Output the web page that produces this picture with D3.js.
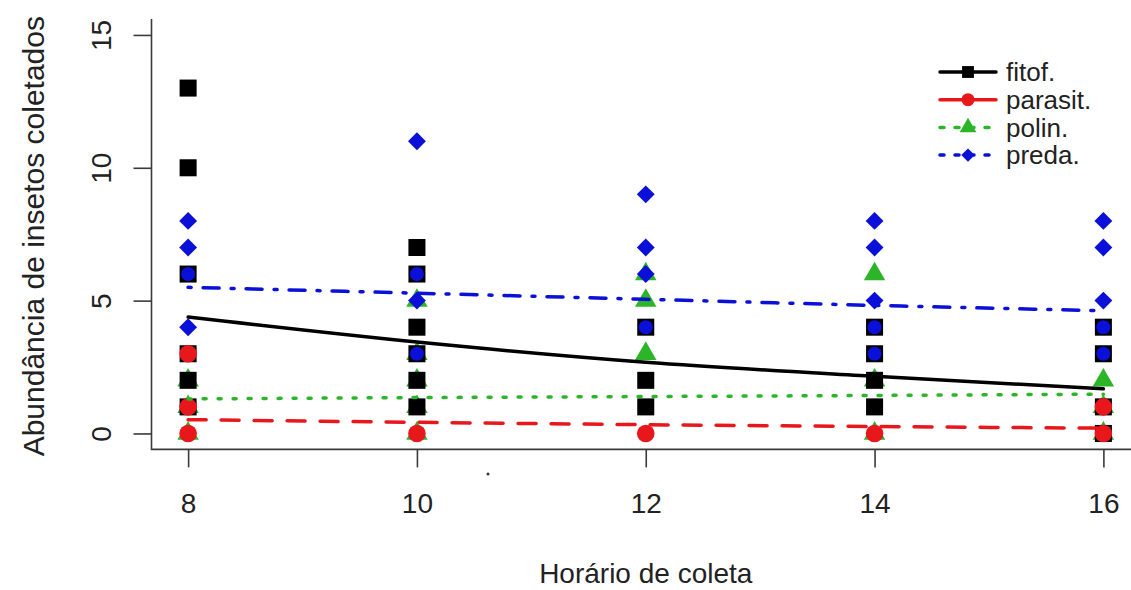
<!DOCTYPE html>
<html>
<head>
<meta charset="utf-8">
<script src="https://cdn.jsdelivr.net/npm/d3@7"></script>
<style>
  body { margin: 0; background: #fff; }
  svg text { font-family: "Liberation Sans", Arial, sans-serif; fill: #222; }
</style>
</head>
<body>
<svg id="chart"></svg>
<script>
// hours of collection
const hours = [8, 10, 12, 14, 16];
const yTicks = [0, 5, 10, 15];

// observed counts, [hour, count]
const fitofObs = [[8, 13], [8, 10], [8, 6], [8, 3], [8, 2], [8, 1],
  [10, 7], [10, 6], [10, 4], [10, 3], [10, 2], [10, 1],
  [12, 4], [12, 2], [12, 1],
  [14, 4], [14, 3], [14, 2], [14, 1],
  [16, 4], [16, 3], [16, 1], [16, 0]];
const parasitObs = [[8, 3], [8, 1], [8, 0], [10, 0], [12, 0], [14, 0], [16, 1], [16, 0]];
const polinObs = [[8, 2], [8, 1], [8, 0],
  [10, 5], [10, 3], [10, 2], [10, 1], [10, 0],
  [12, 6], [12, 5], [12, 3],
  [14, 6], [14, 2], [14, 0],
  [16, 2], [16, 1], [16, 0]];
const predaObs = [[8, 8], [8, 7], [8, 4], [10, 11], [10, 5], [12, 9], [12, 7], [12, 6],
  [14, 8], [14, 7], [14, 5], [16, 8], [16, 7], [16, 5]];
// preda points that show up as circles inside the black squares
const predaCircleObs = [[8, 6], [10, 6], [10, 3], [12, 4], [14, 4], [14, 3], [16, 4], [16, 3]];

// fitted values at each hour
const fitofFit = [4.38, 3.44, 2.68, 2.15, 1.68];
const parasitFit = [0.52, 0.42, 0.33, 0.26, 0.20];
const polinFit = [1.30, 1.35, 1.39, 1.43, 1.48];
const predaFit = [5.50, 5.28, 5.05, 4.82, 4.62];

const legendLabels = ['fitof.', 'parasit.', 'polin.', 'preda.'];

const width = 1131, height = 590;
const svg = d3.select('#chart').attr('width', width).attr('height', height);

const x = d3.scaleLinear().domain([7.68, 16.32]).range([151.5, 1140]);
const y = d3.scaleLinear().domain([-0.6, 15.6]).range([449.4, 19]);

const axisColor = '#3a3a3a';

// L shaped box (bty = "l")
svg.append('path')
  .attr('d', `M${x.range()[0]},${y.range()[1]}V${y.range()[0]}H${width}`)
  .attr('fill', 'none')
  .attr('stroke', axisColor)
  .attr('stroke-width', 1.6);

// x axis
const xAxisG = svg.append('g')
  .attr('transform', `translate(0,${y.range()[0]})`)
  .call(d3.axisBottom(x).tickValues(hours).tickSize(18).tickPadding(26));
xAxisG.select('.domain').remove();
xAxisG.selectAll('.tick line').attr('stroke', axisColor).attr('stroke-width', 1.6);
xAxisG.selectAll('.tick text')
  .attr('fill', '#222')
  .style('font-size', '28px');

// y axis
const yAxisG = svg.append('g')
  .attr('transform', `translate(${x.range()[0]},0)`)
  .call(d3.axisLeft(y).tickValues(yTicks).tickSize(18));
yAxisG.select('.domain').remove();
yAxisG.selectAll('.tick line').attr('stroke', axisColor).attr('stroke-width', 1.6);
yAxisG.selectAll('.tick text')
  .attr('x', 0).attr('y', 0).attr('dy', null)
  .attr('transform', 'translate(-41,0) rotate(-90)')
  .attr('text-anchor', 'middle')
  .attr('fill', '#222')
  .style('font-size', '28px');

// axis titles
svg.append('text')
  .attr('x', (x.range()[0] + x.range()[1]) / 2)
  .attr('y', 583)
  .attr('text-anchor', 'middle')
  .style('font-size', '28px')
  .text('Horário de coleta');

svg.append('text')
  .attr('transform', `translate(44,${(y.range()[0] + y.range()[1]) / 2 + 2}) rotate(-90)`)
  .attr('text-anchor', 'middle')
  .style('font-size', '30px')
  .text('Abundância de insetos coletados');

// small stray dot under the axis
svg.append('circle').attr('cx', 488).attr('cy', 474).attr('r', 1.5).attr('fill', '#333');

const colors = { fitof: '#000000', parasit: '#e8171c', polin: '#2db52a', preda: '#0a10d8' };

const sym = (type, size) => d3.symbol().type(type).size(size)();

// points: triangles first, then squares, circles, diamonds
svg.append('g').selectAll('path').data(polinObs).join('path')
  .attr('d', sym(d3.symbolTriangle, 200))
  .attr('transform', d => `translate(${x(d[0])},${y(d[1])})`)
  .attr('fill', colors.polin);

svg.append('g').selectAll('path').data(fitofObs).join('path')
  .attr('d', sym(d3.symbolSquare, 290))
  .attr('transform', d => `translate(${x(d[0])},${y(d[1])})`)
  .attr('fill', colors.fitof);

svg.append('g').selectAll('circle').data(parasitObs).join('circle')
  .attr('cx', d => x(d[0])).attr('cy', d => y(d[1])).attr('r', 8.8)
  .attr('fill', colors.parasit);

svg.append('g').selectAll('circle').data(predaCircleObs).join('circle')
  .attr('cx', d => x(d[0])).attr('cy', d => y(d[1])).attr('r', 7)
  .attr('fill', colors.preda);

svg.append('g').selectAll('path').data(predaObs).join('path')
  .attr('d', sym(d3.symbolSquare, 160))
  .attr('transform', d => `translate(${x(d[0])},${y(d[1])}) rotate(45)`)
  .attr('fill', colors.preda);

// fitted lines
const fits = [
  { key: 'fitof', values: fitofFit, dash: null },
  { key: 'parasit', values: parasitFit, dash: '18,15' },
  { key: 'polin', values: polinFit, dash: '3,12' },
  { key: 'preda', values: predaFit, dash: '3,12,16,12' }
];

const line = d3.line()
  .x((d, i) => x(hours[i]))
  .y(d => y(d))
  .curve(d3.curveMonotoneX);

svg.append('g').selectAll('path').data(fits).join('path')
  .attr('d', d => line(d.values))
  .attr('fill', 'none')
  .attr('stroke', d => colors[d.key])
  .attr('stroke-width', 3.5)
  .attr('stroke-linecap', 'round')
  .attr('stroke-dasharray', d => d.dash);

// legend
const legend = svg.append('g').attr('transform', 'translate(940,72)');
const rowH = 27.7;
const legendShapes = [
  g => g.append('path').attr('d', sym(d3.symbolSquare, 140)).attr('fill', colors.fitof),
  g => g.append('circle').attr('r', 6.5).attr('fill', colors.parasit),
  g => g.append('path').attr('d', sym(d3.symbolTriangle, 120)).attr('fill', colors.polin),
  g => g.append('path').attr('d', sym(d3.symbolSquare, 90)).attr('transform', 'rotate(45)').attr('fill', colors.preda)
];

fits.forEach((f, i) => {
  const row = legend.append('g').attr('transform', `translate(0,${i * rowH})`);
  row.append('line')
    .attr('x1', 0).attr('x2', 56)
    .attr('stroke', colors[f.key])
    .attr('stroke-width', 3.5)
    .attr('stroke-linecap', 'round')
    .attr('stroke-dasharray', f.key === 'polin' || f.key === 'preda' ? '4,11' : null);
  legendShapes[i](row.append('g').attr('transform', 'translate(28,0)'));
  row.append('text')
    .attr('x', 66).attr('y', 0).attr('dy', '0.35em')
    .style('font-size', '26px')
    .text(legendLabels[i]);
});
</script>
</body>
</html>
